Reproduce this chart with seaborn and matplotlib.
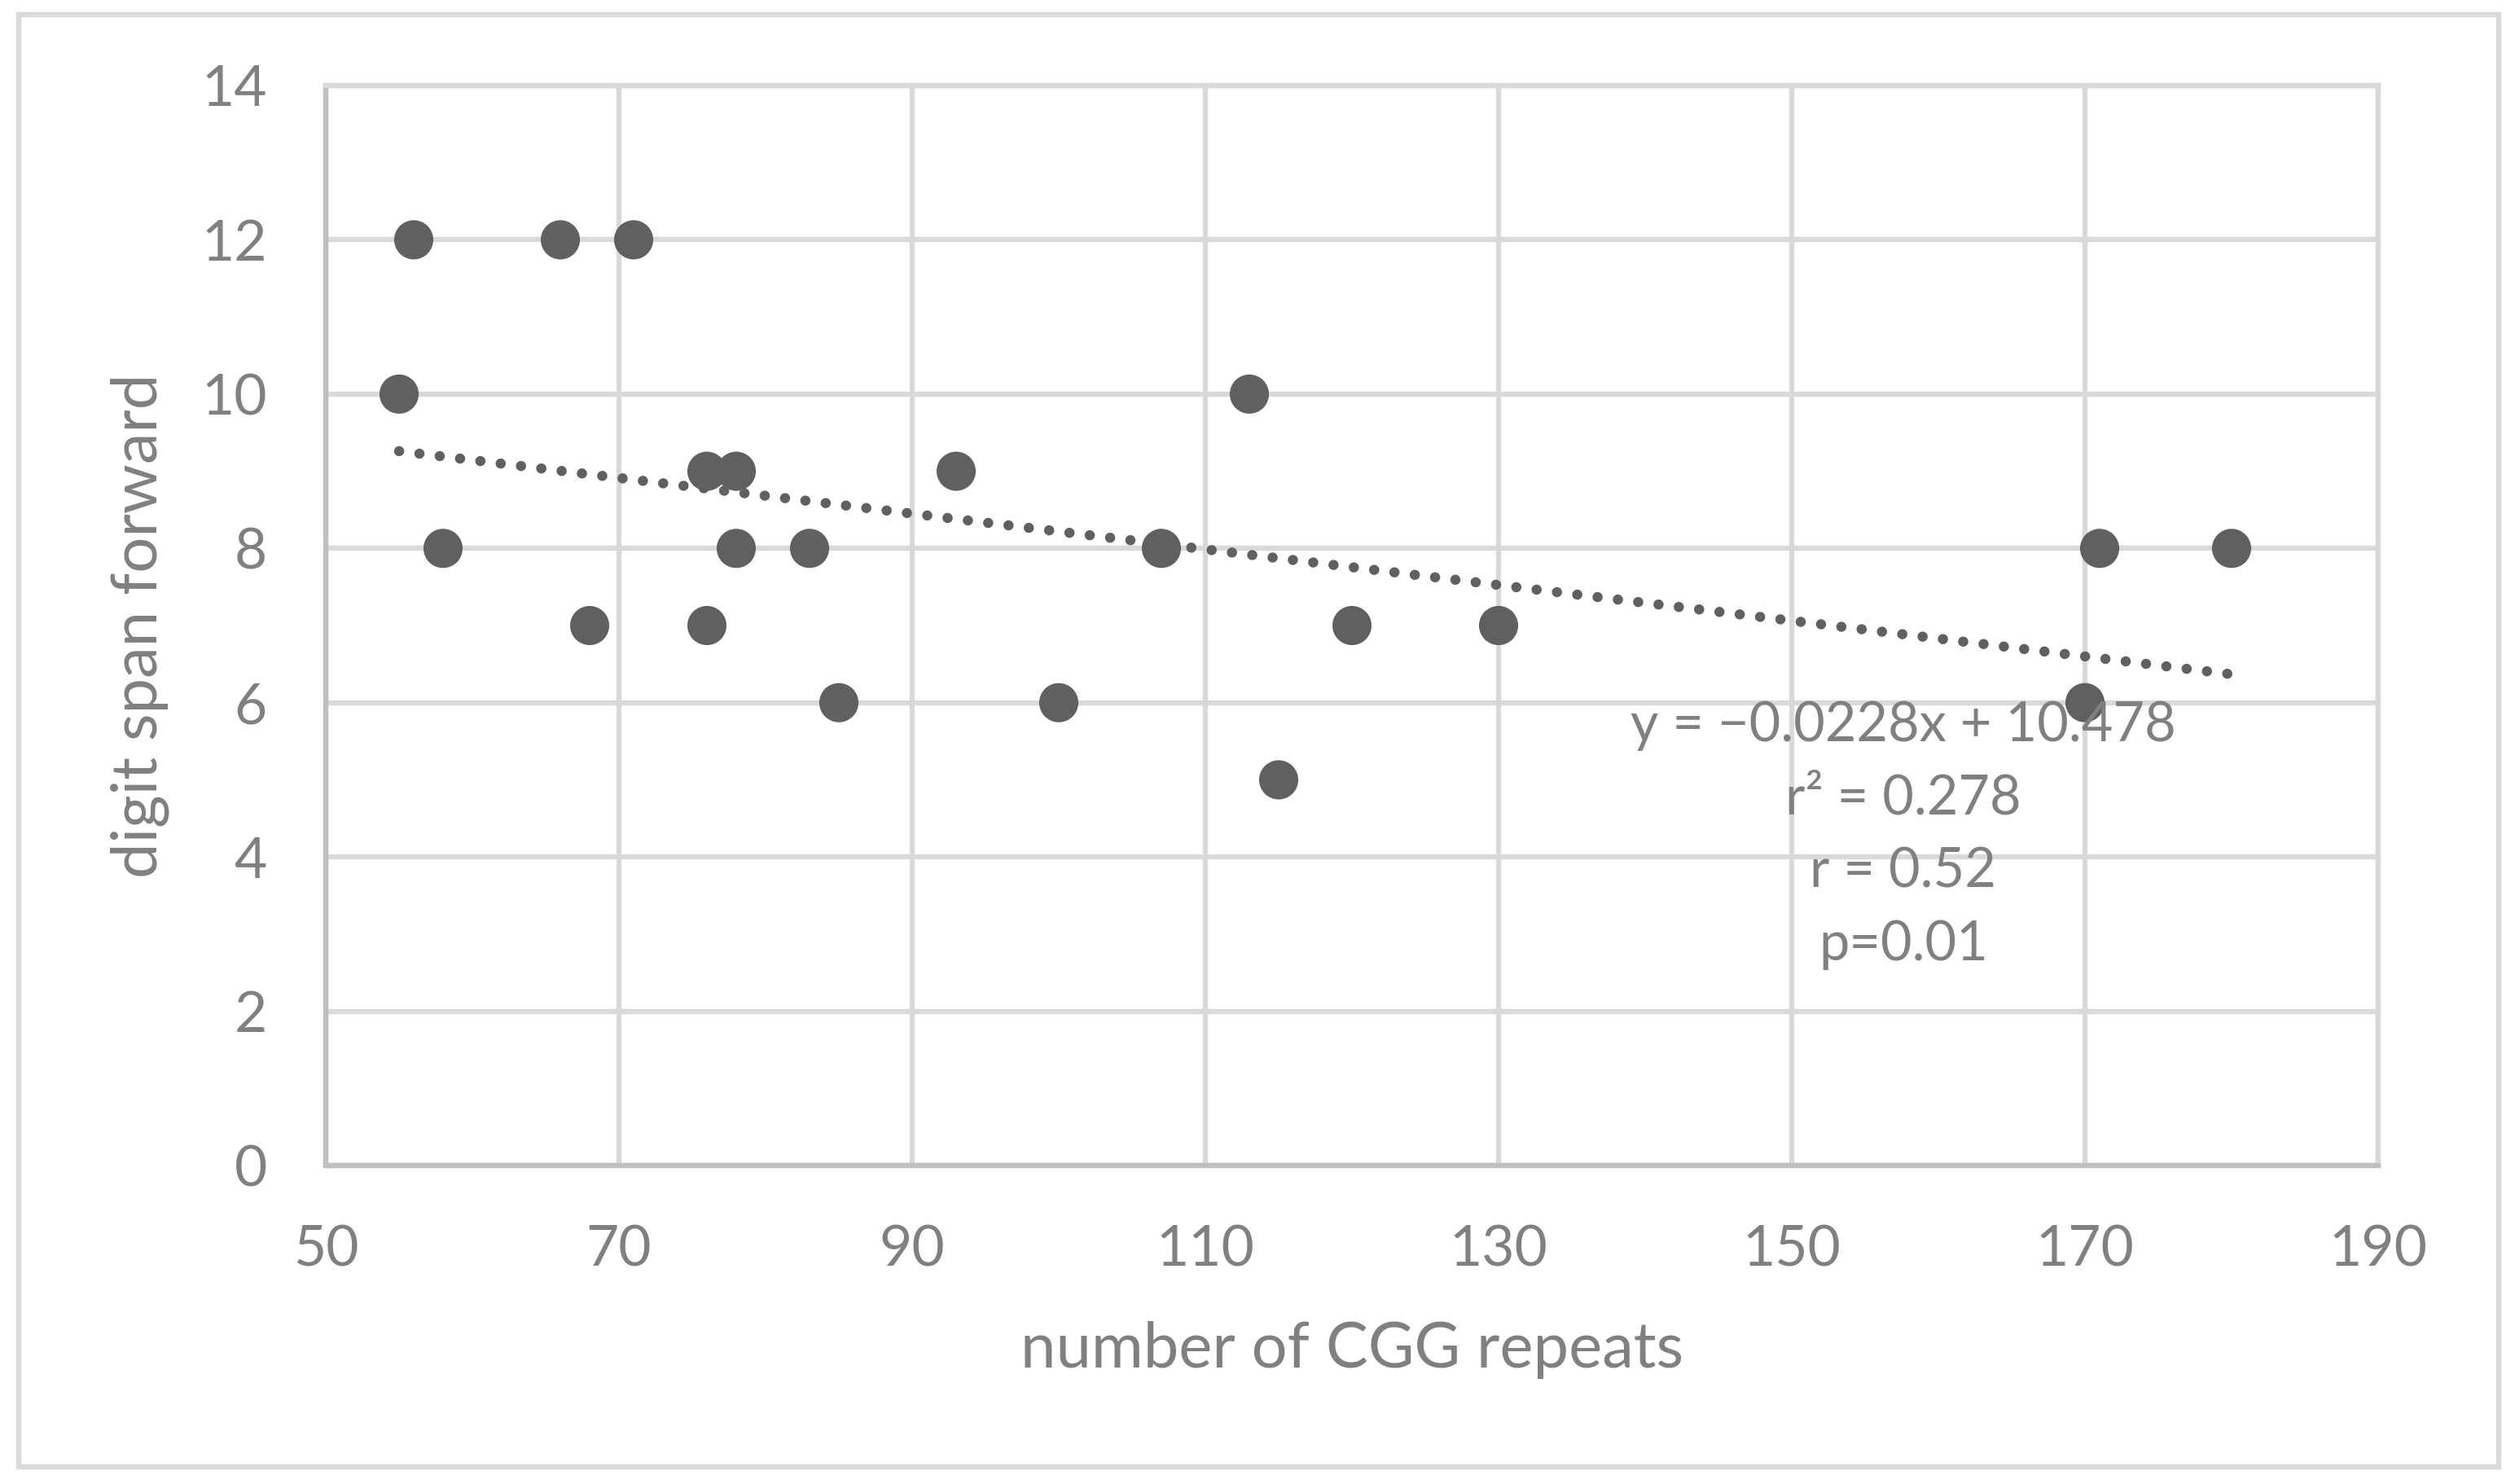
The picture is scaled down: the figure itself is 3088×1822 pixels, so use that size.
import matplotlib
matplotlib.use('Agg')
import matplotlib.pyplot as plt
import seaborn as sns
import pandas as pd
from matplotlib.patches import Rectangle

# valores
cgg_repeats = [55, 56, 58, 66, 68, 71, 76, 78, 76, 78, 83, 85, 93, 100, 107, 113, 115, 120, 130, 170, 171, 180]
digit_span = [10, 12, 8, 12, 7, 12, 9, 9, 7, 8, 8, 6, 9, 6, 8, 10, 5, 7, 7, 6, 8, 8]
x_ticks = [50, 70, 90, 110, 130, 150, 170, 190]
y_ticks = [0, 2, 4, 6, 8, 10, 12, 14]
stats_lines = ['y = \u22120.0228x + 10.478', 'r\u00b2 = 0.278', 'r = 0.52', 'p=0.01']

df = pd.DataFrame({'cgg': cgg_repeats, 'span': digit_span})

sns.set_style('white')
plt.rcParams['font.family'] = ['Lato', 'DejaVu Sans']

W, H = 3088, 1822
fig = plt.figure(figsize=(W / 200, H / 200), dpi=200)
ax = fig.add_axes([400 / W, 1 - 1431 / H, 2520 / W, 1326 / H])

text_col = '#808080'
dot_col = '#606060'
grid_col = '#d9d9d9'

sns.regplot(data=df, x='cgg', y='span', ax=ax, ci=None,
            scatter_kws={'s': 300, 'color': dot_col, 'edgecolor': 'none', 'alpha': 1, 'zorder': 4},
            line_kws={'color': dot_col, 'linewidth': 4.5, 'linestyle': (0, (0.01, 2.0)),
                      'dash_capstyle': 'round', 'zorder': 3})

ax.set_xlim(50, 190)
ax.set_ylim(0, 14)
ax.set_xticks(x_ticks)
ax.set_yticks(y_ticks)
ax.grid(True, color=grid_col, linewidth=2.3, zorder=0)
ax.set_axisbelow(True)
ax.tick_params(length=0, labelsize=25, labelcolor=text_col, pad=26)
for s in ['top', 'right']:
    ax.spines[s].set_color(grid_col)
    ax.spines[s].set_linewidth(2.3)
for s in ['left', 'bottom']:
    ax.spines[s].set_color('#bfbfbf')
    ax.spines[s].set_linewidth(2.3)

ax.set_xlabel('number of CGG repeats', fontsize=28, color=text_col, labelpad=20)
ax.set_ylabel('digit span forward', fontsize=28, color=text_col, labelpad=14)

ax.text(157.6, 4.28, '\n'.join(stats_lines), ha='center', va='center',
        fontsize=24, color=text_col, linespacing=1.55, zorder=5)

fig.patches.append(Rectangle((23 / W, 1 - 1801 / H), 3045 / W, 1783 / H,
                             transform=fig.transFigure, fill=False,
                             edgecolor=grid_col, linewidth=2.3))

fig.savefig('out.png', dpi=200, facecolor='white')
